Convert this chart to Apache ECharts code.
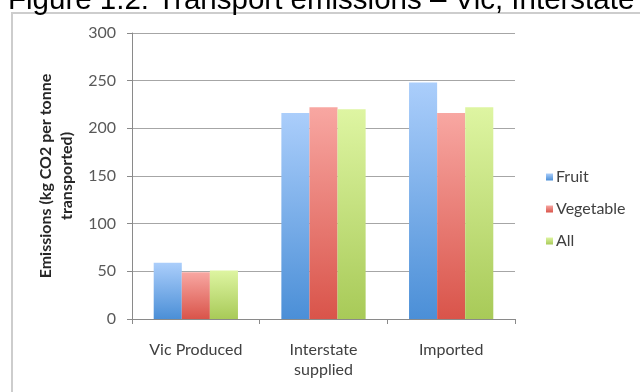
<!DOCTYPE html>
<html>
<head>
<meta charset="utf-8">
<script src="https://cdn.jsdelivr.net/npm/echarts@6/dist/echarts.min.js"></script>
<style>
    html, body { margin: 0; padding: 0; background: #fff; }
    #chart { width: 640px; height: 392px; }
</style>
</head>
<body>
<div id="chart"></div>
<script>
const categories = ["Vic Produced", "Interstate\nsupplied", "Imported"];
const seriesNames = ["Fruit", "Vegetable", "All"];
const fruitValues = [59, 216, 248];
const vegetableValues = [49, 222, 216];
const allValues = [51, 220, 222];
const yTicks = { min: 0, max: 300, interval: 50 };

// top / bottom colours of each bar gradient
const barColours = [
    ["#abcefb", "#4b8fd7"],
    ["#f8a7a2", "#d9544a"],
    ["#def5a2", "#a8ca58"],
];

const labelFont = "Lato, 'Open Sans', sans-serif";

const gradient = ([top, bottom]) =>
    new echarts.graphic.LinearGradient(0, 0, 0, 1, [
        { offset: 0, color: top },
        { offset: 1, color: bottom },
    ]);

const makeSeries = (name, data, idx) => ({
    name,
    type: "bar",
    data,
    barGap: "0%",
    barCategoryGap: "34%",
    itemStyle: { color: gradient(barColours[idx]) },
    emphasis: { disabled: true },
});

const myChart = echarts.init(document.getElementById("chart"));

const option = {
    animation: false,
    backgroundColor: "#fff",
    graphic: [
        {
            type: "rect",
            shape: { x: 12, y: 13, width: 640, height: 400 },
            style: { fill: "none", stroke: "#cdcdcd", lineWidth: 2 },
            silent: true,
        },
        {
            type: "text",
            left: 8,
            top: -14,
            style: {
                text: "Figure 1.2: Transport emissions \u2013 Vic, Interstate",
                font: "29.5px 'Liberation Sans', Arial, sans-serif",
                fill: "#000",
            },
            silent: true,
        },
    ],
    legend: {
        orient: "vertical",
        left: 541,
        top: 164,
        itemWidth: 7,
        itemHeight: 7,
        itemGap: 16,
        icon: "rect",
        selectedMode: false,
        textStyle: { fontFamily: labelFont, fontSize: 16, color: "#404040", padding: [0, 0, 0, -2] },
        data: seriesNames,
    },
    grid: { left: 132, right: 125, top: 33, bottom: 73 },
    xAxis: {
        type: "category",
        data: categories,
        axisLine: { lineStyle: { color: "#8a8a8a" } },
        axisTick: { show: true, length: 5, lineStyle: { color: "#8a8a8a" } },
        axisLabel: {
            fontFamily: labelFont,
            fontSize: 16,
            color: "#404040",
            lineHeight: 20,
            margin: 21,
        },
    },
    yAxis: {
        type: "value",
        min: yTicks.min,
        max: yTicks.max,
        interval: yTicks.interval,
        name: "Emissions (kg CO2 per tonne\ntransported)",
        nameLocation: "middle",
        nameRotate: 90,
        nameGap: 53,
        nameTextStyle: {
            fontFamily: labelFont,
            fontSize: 16,
            fontWeight: "bold",
            color: "#262626",
            lineHeight: 21,
        },
        axisLine: { show: true, lineStyle: { color: "#8a8a8a" } },
        axisTick: { show: true, length: 5, lineStyle: { color: "#8a8a8a" } },
        axisLabel: { fontFamily: labelFont, fontSize: 16, color: "#595959", margin: 16 },
        splitLine: { lineStyle: { color: "#a6a6a6", width: 1 } },
    },
    series: [
        makeSeries(seriesNames[0], fruitValues, 0),
        makeSeries(seriesNames[1], vegetableValues, 1),
        makeSeries(seriesNames[2], allValues, 2),
    ],
};

myChart.setOption(option);
</script>
</body>
</html>
